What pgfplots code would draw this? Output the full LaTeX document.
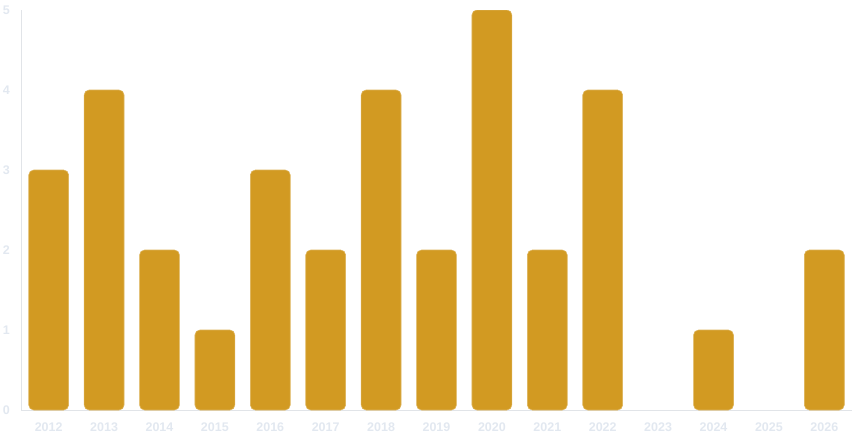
\documentclass[border=0pt]{standalone}
\usepackage{pgfplots}
\pgfplotsset{compat=1.18}
\usepackage{fontspec}
\setmainfont{Liberation Sans}
\definecolor{bargold}{HTML}{D29A22}
\definecolor{lbl}{HTML}{E2E8F0}
\definecolor{axln}{HTML}{E1E4E8}
\begin{document}
\begin{tikzpicture}
\path[use as bounding box] (-21pt,-30pt) rectangle (831pt,410pt);
\begin{axis}[
  at={(0,0)}, anchor=south west,
  scale only axis, width=831pt, height=400pt,
  ybar, bar width=0.72,
  xmin=-0.5, xmax=14.5, ymin=0, ymax=5,
  xtick={0,...,14},
  xticklabels={2012,2013,2014,2015,2016,2017,2018,2019,2020,2021,2022,2023,2024,2025,2026},
  ytick={0,...,5},
  axis x line*=bottom, axis y line*=left,
  axis line style={draw=axln, line width=1pt},
  major tick length=0pt,
  tick label style={font=\fontsize{12.5}{14}\selectfont\bfseries, text=lbl, inner sep=0pt},
  xticklabel style={anchor=center, yshift=-17.5pt},
  yticklabel style={anchor=east, xshift=-11pt},
  /pgf/number format/assume math mode=true,
]
% 2023 and 2025 have no bar (value 0)
\addplot[fill=bargold, draw=bargold!75!white, line width=0.6pt, rounded corners=5pt]
  coordinates {(0,3) (1,4) (2,2) (3,1) (4,3) (5,2) (6,4) (7,2) (8,5) (9,2) (10,4) (12,1) (14,2)};
\end{axis}
\end{tikzpicture}
\end{document}
